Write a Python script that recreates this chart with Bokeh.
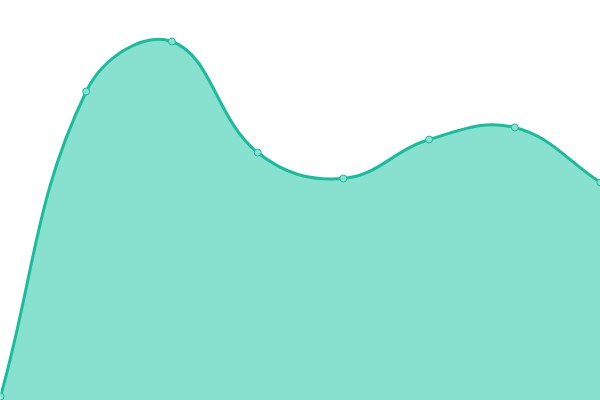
import numpy as np
from bokeh.plotting import figure
from bokeh.models import Range1d
from bokeh.embed import file_html
from bokeh.resources import INLINE

# data
labels = ["1", "2", "3", "4", "5", "6", "7", "8"]
values = [4, 309, 359, 248, 222, 261, 273, 218]

LINE = "#1abc9c"
FILL = "#88e0cf"
STEP = 600 / 7.0  # reference pixel width per category

xs = np.arange(len(values), dtype=float)
ys = np.array(values, dtype=float)


def spline_controls(x, y, tension=0.4):
    # Chart.js-style cardinal spline control points, computed in display units
    px = x * STEP
    py = y.copy()
    n = len(px)
    cps = []
    for i in range(n):
        p0 = (px[max(i - 1, 0)], py[max(i - 1, 0)])
        p1 = (px[i], py[i])
        p2 = (px[min(i + 1, n - 1)], py[min(i + 1, n - 1)])
        d01 = np.hypot(p1[0] - p0[0], p1[1] - p0[1])
        d12 = np.hypot(p2[0] - p1[0], p2[1] - p1[1])
        tot = d01 + d12
        s01 = d01 / tot if tot else 0
        s12 = d12 / tot if tot else 0
        fa = tension * s01
        fb = tension * s12
        prev_cp = (p1[0] - fa * (p2[0] - p0[0]), p1[1] - fa * (p2[1] - p0[1]))
        next_cp = (p1[0] + fb * (p2[0] - p0[0]), p1[1] + fb * (p2[1] - p0[1]))
        cps.append((prev_cp, next_cp))
    segs = []
    for i in range(n - 1):
        a = (px[i], py[i])
        b = (px[i + 1], py[i + 1])
        segs.append((a, cps[i][1], cps[i + 1][0], b))
    return segs


segs = spline_controls(xs, ys)

# sample the curve for the filled area
t = np.linspace(0, 1, 40)
cx, cy = [], []
for a, ca, cb, b in segs:
    bx = (1 - t) ** 3 * a[0] + 3 * (1 - t) ** 2 * t * ca[0] + 3 * (1 - t) * t ** 2 * cb[0] + t ** 3 * b[0]
    by = (1 - t) ** 3 * a[1] + 3 * (1 - t) ** 2 * t * ca[1] + 3 * (1 - t) * t ** 2 * cb[1] + t ** 3 * b[1]
    cx.extend(bx / STEP)
    cy.extend(by)

p = figure(width=600, height=400, output_backend="svg", toolbar_location=None,
           x_range=Range1d(0, 7), y_range=Range1d(0, 400),
           min_border=0, min_border_left=0, min_border_right=0,
           min_border_top=0, min_border_bottom=0)
p.axis.visible = False
p.grid.visible = False
p.outline_line_color = None
p.background_fill_color = "white"
p.border_fill_color = "white"

p.patch(cx + [cx[-1], cx[0]], cy + [0, 0], fill_color=FILL, fill_alpha=1.0, line_color=None)

p.bezier(x0=[s[0][0] / STEP for s in segs], y0=[s[0][1] for s in segs],
         x1=[s[3][0] / STEP for s in segs], y1=[s[3][1] for s in segs],
         cx0=[s[1][0] / STEP for s in segs], cy0=[s[1][1] for s in segs],
         cx1=[s[2][0] / STEP for s in segs], cy1=[s[2][1] for s in segs],
         line_color=LINE, line_width=3)

p.scatter(xs, ys, size=7, fill_color=FILL, line_color=LINE, line_width=1)

open("out.html", "w").write(file_html(p, INLINE))
